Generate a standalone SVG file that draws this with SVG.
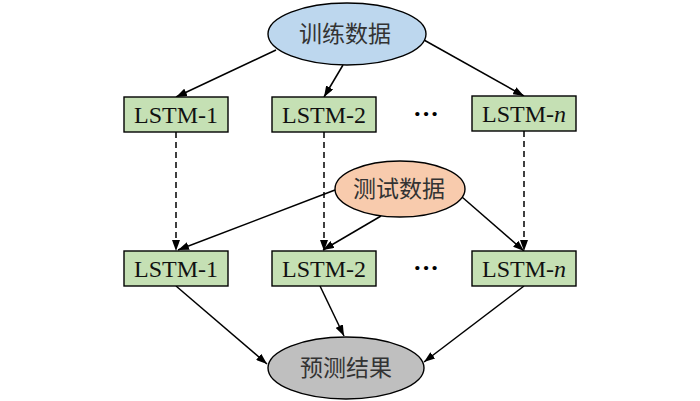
<svg xmlns="http://www.w3.org/2000/svg" width="700" height="401" viewBox="0 0 700 401">
<defs>
<marker id="ah" markerWidth="11" markerHeight="8" refX="11" refY="4" orient="auto" markerUnits="userSpaceOnUse">
<path d="M0,0 L11,4 L0,8 Z" fill="#000"/>
</marker>
<style>
.box{fill:#C5E0B4;stroke:#000;stroke-width:1.4}
.lt{font-family:"Liberation Serif","Times New Roman",serif;font-size:24px;fill:#111;text-anchor:middle}
.cn{font-family:"Noto Sans CJK SC","Noto Sans",sans-serif;font-size:23px;fill:#333;text-anchor:middle}
.ed{stroke:#000;stroke-width:1.5;fill:none;marker-end:url(#ah)}
.dash{stroke-dasharray:6,4}
.dots{font-family:"Liberation Serif",serif;font-size:26px;font-weight:bold;fill:#000;text-anchor:middle}
</style>
</defs>
<rect width="700" height="401" fill="#fff"/>
<g id="connectors">
<line class="ed" x1="276" y1="50" x2="176" y2="97"/>
<line class="ed" x1="343" y1="65" x2="324" y2="97"/>
<line class="ed" x1="424" y1="40" x2="524" y2="96"/>
<line class="ed dash" x1="176" y1="132" x2="176" y2="251"/>
<line class="ed dash" x1="324" y1="132" x2="324" y2="251"/>
<line class="ed dash" x1="524" y1="131" x2="524" y2="251"/>
<line class="ed" x1="335" y1="190" x2="178" y2="250"/>
<line class="ed" x1="381" y1="216" x2="323" y2="250"/>
<line class="ed" x1="462" y1="197" x2="524" y2="251"/>
<line class="ed" x1="176" y1="286" x2="267" y2="364"/>
<line class="ed" x1="320" y1="286" x2="344" y2="336"/>
<line class="ed" x1="524" y1="286" x2="424" y2="362"/>
</g>
<g id="train">
<ellipse cx="347" cy="34" rx="79" ry="31" fill="#BDD7EE" stroke="#000" stroke-width="1.4"/>
<text class="cn" x="345" y="42">训练数据</text>
</g>
<g id="lstm1a"><rect class="box" x="124" y="97" width="104" height="35"/><text class="lt" x="176" y="123">LSTM-1</text></g>
<g id="lstm2a"><rect class="box" x="272" y="97" width="104" height="35"/><text class="lt" x="324" y="123">LSTM-2</text></g>
<g id="dotsa"><text class="dots" x="426" y="122">···</text></g>
<g id="lstmna"><rect class="box" x="472" y="96" width="104" height="35"/><text class="lt" x="524" y="122">LSTM-<tspan font-style="italic">n</tspan></text></g>
<g id="test">
<ellipse cx="400" cy="189" rx="65" ry="28" fill="#F8CBAD" stroke="#000" stroke-width="1.4"/>
<text class="cn" x="399" y="197">测试数据</text>
</g>
<g id="lstm1b"><rect class="box" x="124" y="251" width="104" height="35"/><text class="lt" x="176" y="277">LSTM-1</text></g>
<g id="lstm2b"><rect class="box" x="272" y="251" width="104" height="35"/><text class="lt" x="324" y="277">LSTM-2</text></g>
<g id="dotsb"><text class="dots" x="426" y="276">···</text></g>
<g id="lstmnb"><rect class="box" x="472" y="251" width="104" height="35"/><text class="lt" x="524" y="277">LSTM-<tspan font-style="italic">n</tspan></text></g>
<g id="result">
<ellipse cx="346" cy="368" rx="78" ry="31" fill="#BFBFBF" stroke="#000" stroke-width="1.4"/>
<text class="cn" x="346" y="376">预测结果</text>
</g>
</svg>
